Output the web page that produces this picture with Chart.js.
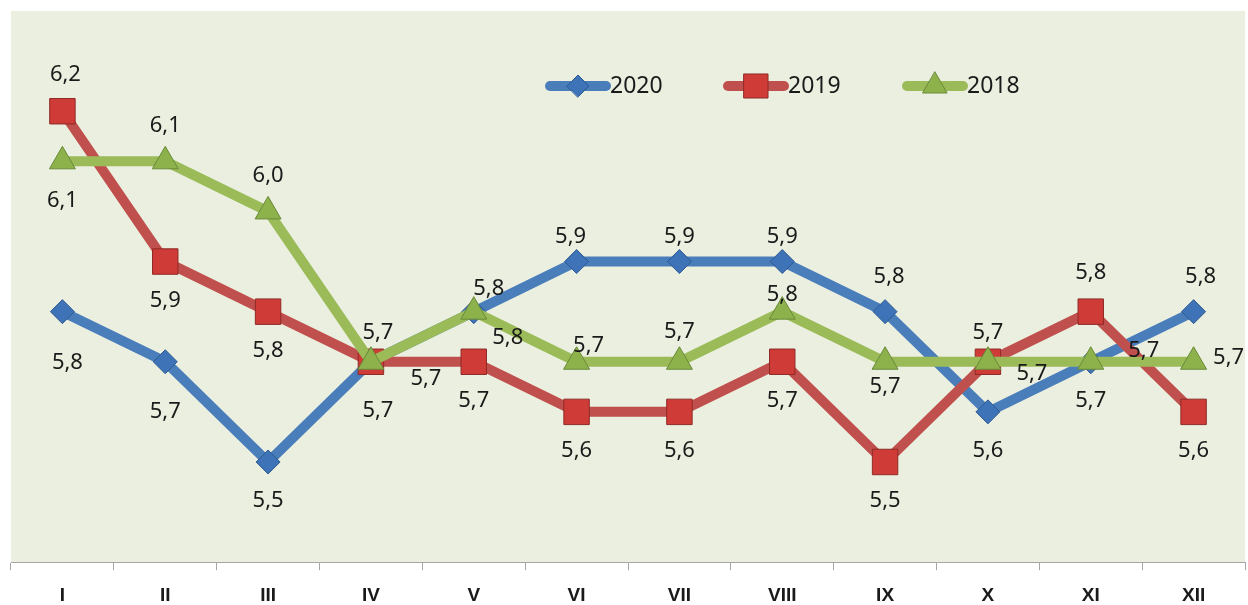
<!DOCTYPE html>
<html>
<head>
<meta charset="utf-8">
<script src="https://cdn.jsdelivr.net/npm/chart.js@4"></script>
<style>
    html, body { margin: 0; padding: 0; background: #ffffff; }
    #wrap { width: 1248px; height: 605px; }
</style>
</head>
<body>
<div id="wrap"><canvas id="lineChart" width="1248" height="605"></canvas></div>
<script>
const months = ["I", "II", "III", "IV", "V", "VI", "VII", "VIII", "IX", "X", "XI", "XII"];

const values2020 = [5.8, 5.7, 5.5, 5.7, 5.8, 5.9, 5.9, 5.9, 5.8, 5.6, 5.7, 5.8];
const values2019 = [6.2, 5.9, 5.8, 5.7, 5.7, 5.6, 5.6, 5.7, 5.5, 5.7, 5.8, 5.6];
const values2018 = [6.1, 6.1, 6.0, 5.7, 5.8, 5.7, 5.7, 5.8, 5.7, 5.7, 5.7, 5.7];

// label offsets from each point (px), like Excel's hand-placed labels
const offs2020 = [[5, 51], [0, 50], [0, 39], [7, 49], [15, -23], [-6, -25], [0, -25], [0, -25], [4, -35], [0, 39], [0, 39], [7, -35]];
const offs2019 = [[3, -36], [0, 39], [0, 39], [55, 17], [0, 39], [0, 39], [0, 39], [0, 39], [0, 39], [0, -29], [0, -39], [0, 39]];
const offs2018 = [[0, 39], [0, -36], [0, -36], [7, -29], [34, 26], [12, -16], [0, -30], [0, -17], [0, 25], [44, 12], [53, -11], [35, -4]];

const COLORS = {
    blue: "#4a7ebb",
    red: "#c0504d",
    green: "#9bbb59",
    plotBg: "#ebefdf",
    axis: "#a6a6a6",
    text: "#1a1a1a",
};

const FONT = "'Noto Sans', 'Open Sans', sans-serif";

/*
|--------------------------------------------------------------------------
| Plugins
|--------------------------------------------------------------------------
*/

const plotBackground = {
    id: "plotBackground",
    beforeDraw(chart) {
        const { ctx, chartArea } = chart;
        ctx.save();
        ctx.fillStyle = COLORS.plotBg;
        ctx.fillRect(chartArea.left, chartArea.top, chartArea.right - chartArea.left, chartArea.bottom - chartArea.top);
        ctx.restore();
    },
};

const valueLabels = {
    id: "valueLabels",
    afterDatasetsDraw(chart) {
        const { ctx } = chart;
        ctx.save();
        ctx.font = "22px " + FONT;
        ctx.fillStyle = COLORS.text;
        ctx.textAlign = "center";
        ctx.textBaseline = "middle";
        chart.data.datasets.forEach((ds, i) => {
            const meta = chart.getDatasetMeta(i);
            meta.data.forEach((pt, j) => {
                const o = ds.labelOffsets[j];
                ctx.fillText(ds.data[j].toFixed(1).replace(".", ","), pt.x + o[0], pt.y + o[1]);
            });
        });
        ctx.restore();
    },
};

const lineLegend = {
    id: "lineLegend",
    afterDraw(chart) {
        const { ctx } = chart;
        const startX = [550, 728, 907];
        const y = 86;
        ctx.save();
        chart.data.datasets.forEach((ds, i) => {
            const x = startX[i];
            ctx.strokeStyle = ds.borderColor;
            ctx.lineWidth = 10;
            ctx.lineCap = "round";
            ctx.beginPath();
            ctx.moveTo(x, y);
            ctx.lineTo(x + 56, y);
            ctx.stroke();
            ctx.fillStyle = ds.pointBackgroundColor;
            ctx.strokeStyle = ds.pointBorderColor;
            ctx.lineWidth = 1;
            Chart.helpers.drawPoint(ctx, {
                pointStyle: ds.pointStyle,
                radius: ds.pointRadius - 1,
                borderWidth: 1,
                rotation: 0,
            }, x + 28, y);
            ctx.fillStyle = COLORS.text;
            ctx.font = "23px " + FONT;
            ctx.textBaseline = "middle";
            ctx.textAlign = "left";
            ctx.fillText(ds.label, x + 60, y);
        });
        ctx.restore();
    },
};

/*
|--------------------------------------------------------------------------
| Chart
|--------------------------------------------------------------------------
*/

new Chart(document.getElementById("lineChart"), {
    type: "line",

    data: {
        labels: months,

        datasets: [
            {
                label: "2020",
                data: values2020,
                labelOffsets: offs2020,
                order: 3,
                borderColor: COLORS.blue,
                borderWidth: 10,
                pointStyle: "rectRot",
                pointRadius: 12,
                pointBackgroundColor: "#3f73b8",
                pointBorderColor: "#2d5a91",
                pointBorderWidth: 1,
                tension: 0,
            },
            {
                label: "2019",
                data: values2019,
                labelOffsets: offs2019,
                order: 2,
                borderColor: COLORS.red,
                borderWidth: 10,
                pointStyle: "rect",
                pointRadius: 18,
                pointBackgroundColor: "#cf3b37",
                pointBorderColor: "#8e2b28",
                pointBorderWidth: 1,
                tension: 0,
            },
            {
                label: "2018",
                data: values2018,
                labelOffsets: offs2018,
                order: 1,
                borderColor: COLORS.green,
                borderWidth: 10,
                pointStyle: "triangle",
                pointRadius: 15,
                pointBackgroundColor: "#8db24c",
                pointBorderColor: "#6a8a38",
                pointBorderWidth: 1,
                tension: 0,
            },
        ],
    },

    options: {
        responsive: false,
        animation: false,
        devicePixelRatio: 1,

        layout: {
            autoPadding: false,
            padding: { left: 11, right: 3, top: 11, bottom: -16 },
        },

        plugins: {
            legend: { display: false },
            tooltip: { enabled: false },
        },

        scales: {
            x: {
                offset: true,

                grid: {
                    drawOnChartArea: false,
                    offset: true,
                    tickLength: 8,
                    color: COLORS.axis,
                },

                border: { color: COLORS.axis, width: 1 },

                ticks: {
                    color: COLORS.text,
                    padding: 14,
                    font: { family: "'Liberation Sans', Arial, sans-serif", size: 19, weight: "bold" },
                },
            },

            y: {
                display: false,
                min: 5.3,
                max: 6.4,
            },
        },
    },

    plugins: [plotBackground, valueLabels, lineLegend],
});
</script>
</body>
</html>
